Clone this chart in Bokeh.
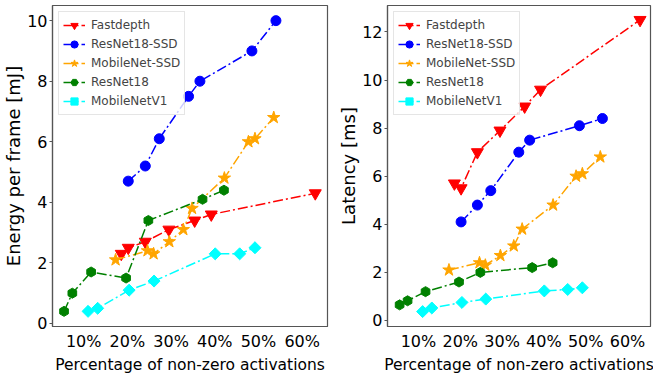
import math
from bokeh.plotting import figure
from bokeh.layouts import row
from bokeh.models import FixedTicker, Range1d
from bokeh.embed import file_html
from bokeh.resources import INLINE

# ---- data ----
series_names = ["Fastdepth", "ResNet18-SSD", "MobileNet-SSD", "ResNet18", "MobileNetV1"]

fast_x = [18.6, 20.2, 24.1, 29.5, 35.4, 39.2, 63.0]
fast_energy = [2.3, 2.5, 2.7, 3.1, 3.4, 3.6, 4.3]
fast_latency = [5.7, 5.5, 7.0, 7.9, 8.9, 9.6, 12.5]

rssd_x = [20.2, 24.1, 27.3, 34.0, 36.6, 48.5, 54.0]
rssd_energy = [4.7, 5.2, 6.1, 7.5, 8.0, 9.0, 10.0]
rssd_latency = [4.1, 4.8, 5.4, 7.0, 7.5, 8.1, 8.4]

mssd_x = [17.3, 24.6, 26.0, 29.6, 32.8, 34.8, 42.2, 47.7, 49.2, 53.5]
mssd_energy = [2.1, 2.4, 2.3, 2.7, 3.1, 3.8, 4.8, 6.0, 6.1, 6.8]
mssd_latency = [2.1, 2.4, 2.3, 2.7, 3.1, 3.8, 4.8, 6.0, 6.1, 6.8]

r18_x = [5.5, 7.4, 11.7, 19.7, 24.8, 37.2, 42.1]
r18_energy = [0.4, 1.0, 1.7, 1.5, 3.4, 4.1, 4.4]
r18_latency = [0.65, 0.82, 1.2, 1.6, 2.0, 2.2, 2.4]

mv1_x = [11.0, 13.2, 20.4, 26.1, 40.1, 45.7, 49.2]
mv1_energy = [0.4, 0.5, 1.1, 1.4, 2.3, 2.3, 2.5]
mv1_latency = [0.37, 0.52, 0.75, 0.89, 1.23, 1.29, 1.36]

x_ticks = [10, 20, 30, 40, 50, 60]
x_tick_labels = ["10%", "20%", "30%", "40%", "50%", "60%"]
energy_ticks = [0, 2, 4, 6, 8, 10]
latency_ticks = [0, 2, 4, 6, 8, 10, 12]

FONT = "DejaVu Sans"
FRAME = "#555555"

styles = [
    ("red", "inverted_triangle", 12, 0.0),
    ("blue", "circle", 10, 0.0),
    ("orange", "star", 13, 0.0),
    ("green", "hex", 10, math.pi / 6),
    ("cyan", "square", 8.5, math.pi / 4),
]


def make(xs_list, ys_list, ylabel, yticks, xrange, yrange, width, bl, br, lab_standoff):
    p = figure(width=width, height=376, output_backend="svg", toolbar_location=None,
               x_range=Range1d(*xrange), y_range=Range1d(*yrange),
               min_border_left=bl, min_border_right=br, min_border_top=5, min_border_bottom=46)
    p.grid.visible = False
    p.outline_line_color = FRAME
    p.outline_line_width = 1.2
    for xs, ys, name, (col, mk, sz, ang) in zip(xs_list, ys_list, series_names, styles):
        p.line(xs, ys, color=col, line_width=1.5, line_dash="10 3 2 3", legend_label=name)
        p.scatter(xs, ys, marker=mk, size=sz, angle=ang, fill_color=col, line_color=col,
                  legend_label=name)
    xa = p.xaxis[0]
    xa.ticker = FixedTicker(ticks=x_ticks)
    xa.major_label_overrides = {t: l for t, l in zip(x_ticks, x_tick_labels)}
    xa.major_tick_out = 0
    xa.major_tick_in = 0
    xa.minor_tick_out = 0
    xa.minor_tick_in = 0
    xa.major_label_standoff = 5
    xa.axis_label = "Percentage of non-zero activations"
    xa.axis_label_standoff = 2
    xa.axis_label_text_font_size = "15.5px"
    ya = p.yaxis[0]
    ya.ticker = FixedTicker(ticks=yticks)
    ya.major_tick_out = 3
    ya.major_tick_in = 0
    ya.minor_tick_out = 0
    ya.minor_tick_in = 0
    ya.major_label_standoff = 2
    ya.axis_label = ylabel
    ya.axis_label_standoff = lab_standoff
    ya.axis_label_text_font_size = "18px"
    for ax in (xa, ya):
        ax.axis_line_color = FRAME
        ax.axis_line_width = 1.2
        ax.major_tick_line_color = FRAME
        ax.major_label_text_font = FONT
        ax.major_label_text_font_size = "16px"
        ax.major_label_text_color = "black"
        ax.axis_label_text_font = FONT
        ax.axis_label_text_font_style = "normal"
        ax.axis_label_text_color = "black"
    lg = p.legend[0]
    lg.location = "top_left"
    lg.margin = 6
    lg.padding = 4
    lg.spacing = 1
    lg.label_text_font = FONT
    lg.label_text_font_size = "12px"
    lg.label_height = 18
    lg.glyph_height = 18
    lg.glyph_width = 22
    lg.label_standoff = 6
    lg.border_line_color = "#cccccc"
    lg.border_line_width = 1
    lg.background_fill_alpha = 0.8
    return p


p1 = make([fast_x, rssd_x, mssd_x, r18_x, mv1_x],
          [fast_energy, rssd_energy, mssd_energy, r18_energy, mv1_energy],
          "Energy per frame [mJ]", energy_ticks, (2.86, 65.8), (-0.1, 10.5), 335, 46, 8, 0)
p2 = make([fast_x, rssd_x, mssd_x, r18_x, mv1_x],
          [fast_latency, rssd_latency, mssd_latency, r18_latency, mv1_latency],
          "Latency [ms]", latency_ticks, (2.6, 65.5), (-0.25, 13.1), 318, 46, 3, 0)

layout = row(p1, p2)
open("out.html", "w").write(file_html(layout, INLINE))
